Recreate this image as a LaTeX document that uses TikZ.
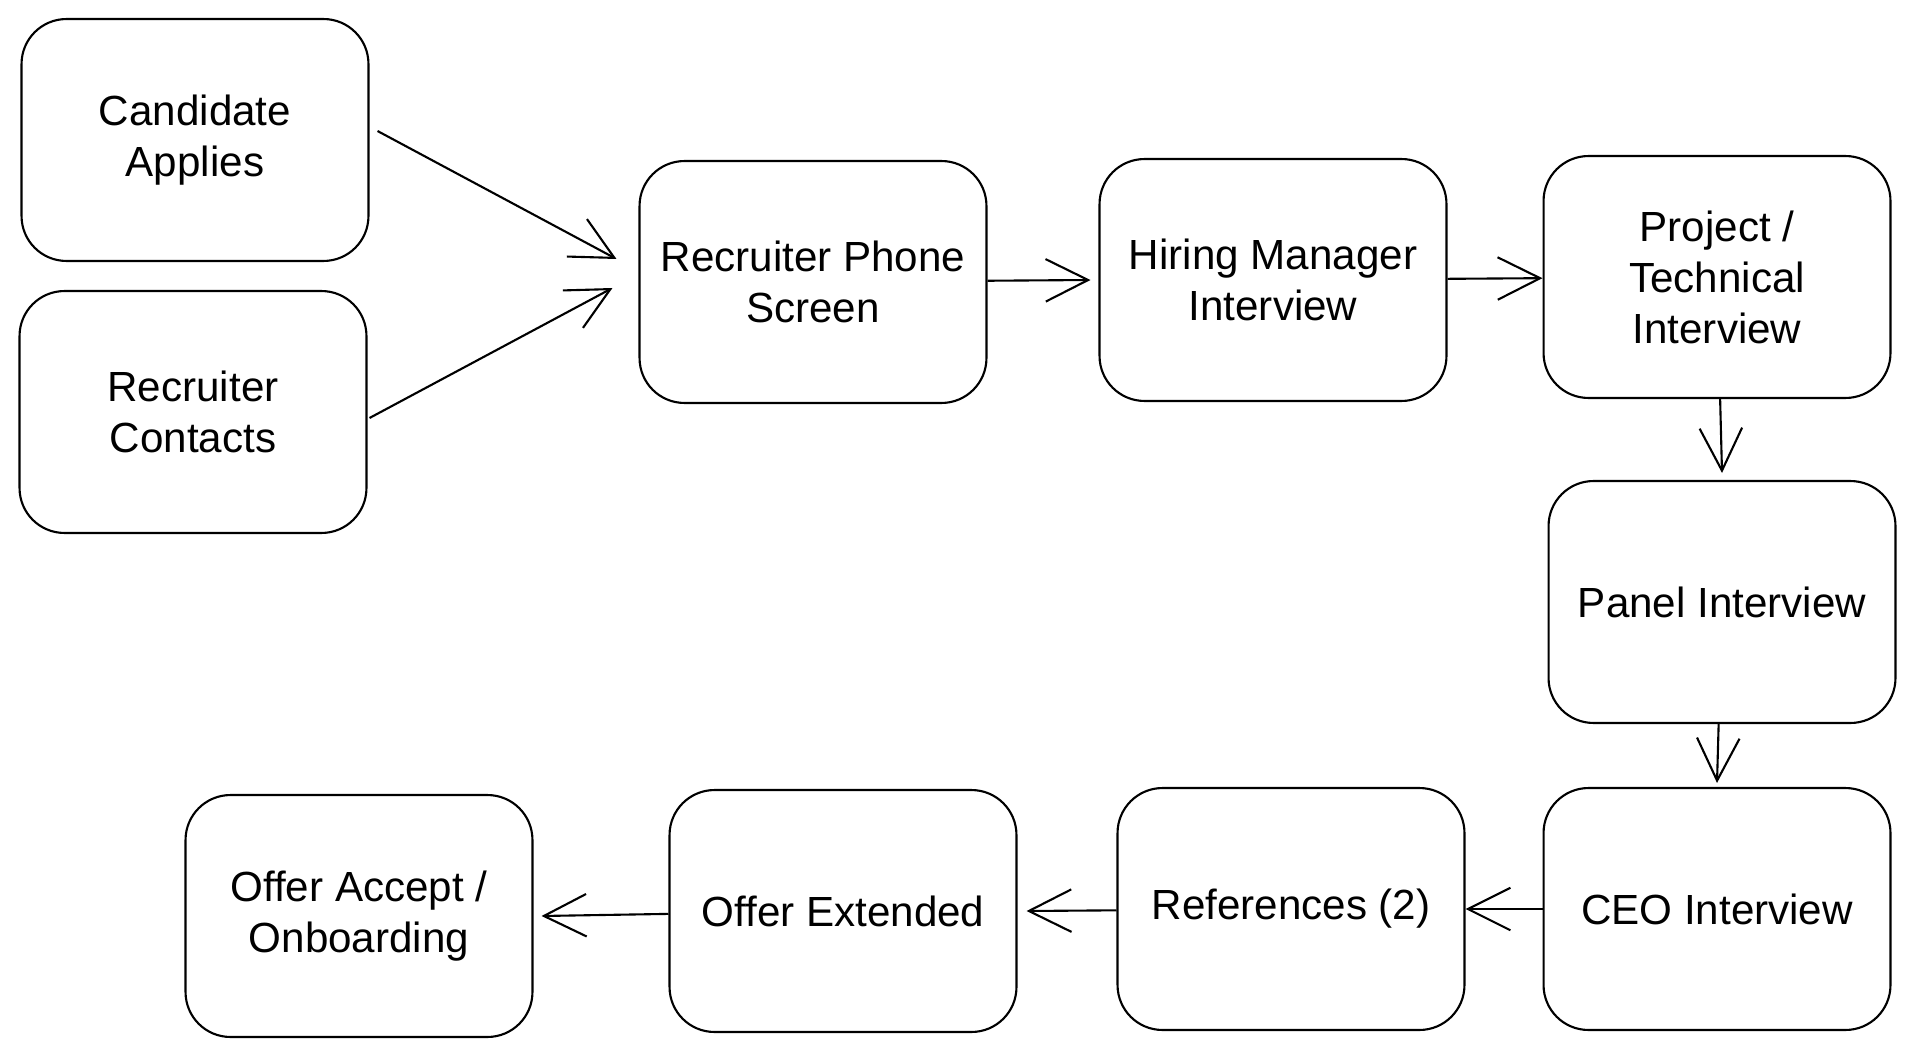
\documentclass[tikz,border=0pt]{standalone}
\usepackage{fontspec}
\setmainfont{Liberation Sans}
\usepackage{tikz}
\usetikzlibrary{arrows.meta,positioning,calc}

\tikzset{
  box/.style={draw, rounded corners=0.9cm, minimum width=6.94cm, minimum height=4.84cm,
    line width=1.2pt, align=center, font=\fontsize{24}{29}\selectfont},
  flow/.style={-{Straight Barb[length=0.85cm,width=0.85cm,line width=1.2pt]}, line width=1.2pt}
}

\begin{document}
\begin{tikzpicture}[x=0.02cm, y=-0.02cm]
         \useasboundingbox (0,0) rectangle (1915,1057);
         % Define nodes
         \node[box] (apply) at (195,140) {Candidate\\Applies};
         \node[box] (contact) at (193,412) {Recruiter\\Contacts};
         \node[box] (phone) at (813,282) {Recruiter Phone\\Screen};
         \node[box] (hm) at (1273,280) {Hiring Manager\\Interview};
         \node[box] (tech) at (1717,277) {Project /\\Technical\\Interview};
         \node[box] (panel) at (1722,602) {Panel Interview};
         \node[box] (ceo) at (1717,909) {CEO Interview};
         \node[box] (refs) at (1291,909) {References (2)};
         \node[box] (offer) at (843,911) {Offer Extended};
         \node[box] (accept) at (359,916) {Offer Accept /\\Onboarding};

         % Draw edges
         \draw[flow] ($(apply.east)+(8,-9)$) -- ($(phone.west)+(-22,-23)$);
         \draw[flow] ($(contact.east)+(2,6)$) -- ($(phone.west)+(-26,6)$);
         \draw[flow] (phone) -- ([xshift=-0.16cm]hm.west);
         \draw[flow] (hm) -- (tech);
         \draw[flow] (tech) -- ([yshift=0.14cm]panel.north);
         \draw[flow] (panel) -- ([yshift=0.08cm]ceo.north);
         \draw[flow] (ceo) -- (refs);
         \draw[flow] (refs) -- ([xshift=0.18cm]offer.east);
         \draw[flow] (offer) -- ([xshift=0.16cm]accept.east);
      \end{tikzpicture}
\end{document}
